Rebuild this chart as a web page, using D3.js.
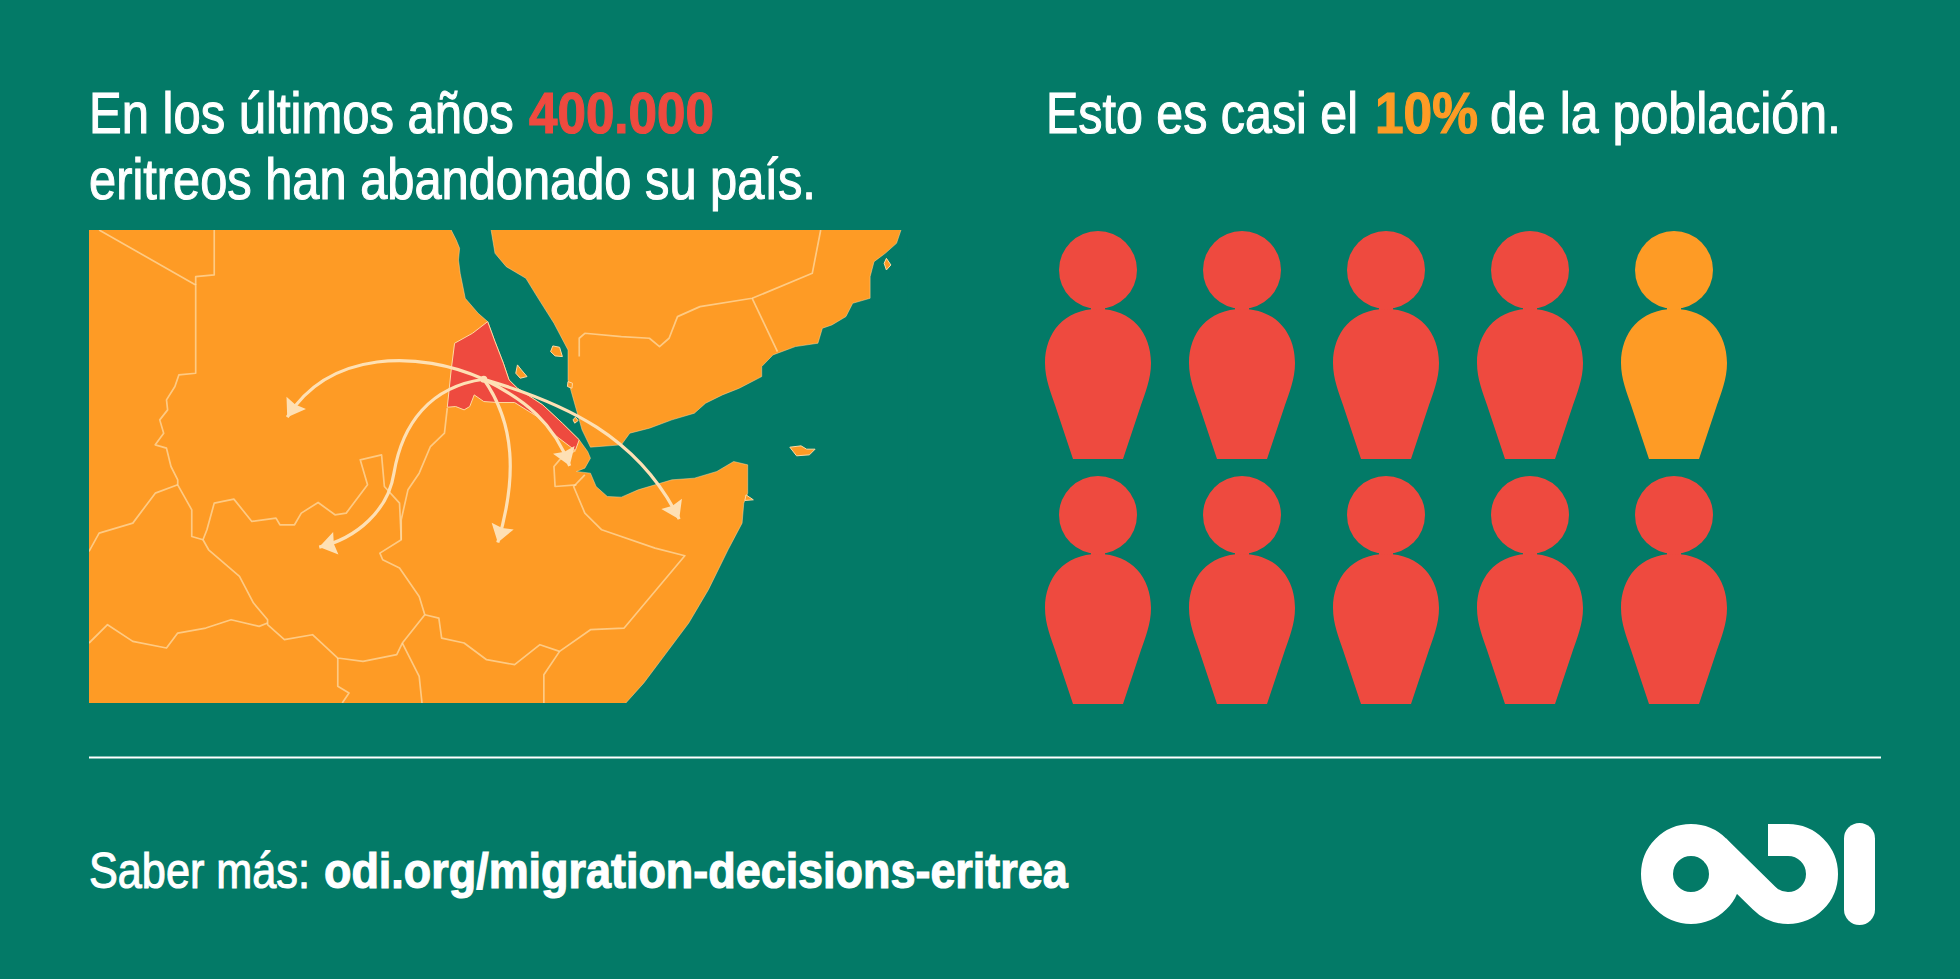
<!DOCTYPE html>
<html>
<head>
<meta charset="utf-8">
<script src="https://cdn.jsdelivr.net/npm/d3@7"></script>
<style>
html, body { margin: 0; padding: 0; background: #037a67; overflow: hidden; }
text { font-family: "Liberation Sans", sans-serif; }
</style>
</head>
<body>
<div id="chart"></div>
<script>
'use strict';

// map outlines, in units
const sea = [[695,45],[697,60],[706,90],[712,115],[710,150],[713,190],[722,265],[745,310],[762,335],[775,395],[790,460],[800,510],[815,535],[860,585],[895,640],[925,690],[940,725],[945,745],[935,775],[920,785],[945,790],[955,830],[975,860],[1000,862],[1030,840],[1060,825],[1090,810],[1130,805],[1170,785],[1200,755],[1225,765],[1225,850],[1218,880],[1215,940],[1190,1020],[1155,1140],[1120,1240],[1080,1330],[1040,1420],[1008,1480],[995,1500],[1530,1500],[1530,45],[1503,45],[1498,60],[1490,100],[1470,130],[1450,155],[1443,200],[1443,265],[1412,280],[1400,320],[1375,345],[1358,355],[1350,400],[1310,410],[1270,435],[1250,470],[1250,500],[1210,535],[1180,555],[1150,580],[1130,610],[1090,630],[1050,655],[1015,670],[1000,705],[945,712],[930,660],[915,570],[905,510],[905,420],[880,340],[850,260],[830,205],[795,170],[775,130],[768,60],[770,45]];
const eritrea = [[762,335],[775,395],[790,460],[800,510],[815,535],[860,585],[895,640],[925,690],[918,722],[885,680],[850,620],[810,578],[780,578],[755,575],[738,555],[730,590],[720,600],[705,590],[690,592],[697,480],[703,400],[735,370]];
const islands = [
    [[878,408],[890,412],[895,440],[882,438],[874,425]],
    [[815,465],[822,480],[832,500],[820,505],[812,490]],
    [[905,515],[913,520],[912,535],[904,530]],
    [[918,622],[923,632],[917,640],[914,630]],
    [[1300,712],[1320,708],[1330,718],[1345,718],[1335,735],[1312,738]],
    [[1472,145],[1480,165],[1472,180],[1468,160]],
    [[1222,855],[1235,870],[1220,872]]
];
const borders = [
    [[70,60],[242,225],[242,490],[212,495],[205,530],[190,570],[192,600],[178,630],[185,670],[170,705],[190,715],[198,770],[210,810],[210,825],[235,900],[235,980],[255,990]],
    [[275,60],[275,195],[242,200],[242,225]],
    [[210,825],[170,850],[130,940],[70,970],[52,1025]],
    [[255,990],[262,960],[275,880],[310,868],[342,935],[385,925],[392,945],[418,945],[430,910],[460,878],[490,915],[510,910],[548,825],[535,750],[573,735],[578,830],[605,880],[608,990],[570,1030],[575,1050],[605,1075],[640,1160],[650,1215]],
    [[690,595],[685,670],[660,710],[640,790],[620,840],[608,930],[608,990]],
    [[255,990],[265,1020],[320,1100],[345,1180],[370,1230],[370,1245],[400,1290],[450,1275],[495,1345],[540,1355],[600,1335],[610,1300],[650,1215]],
    [[52,1300],[85,1245],[130,1295],[190,1315],[210,1270],[260,1255],[305,1230],[355,1250],[370,1240]],
    [[495,1345],[495,1430],[515,1450],[503,1480]],
    [[610,1300],[640,1400],[645,1480]],
    [[650,1215],[675,1225],[680,1285],[720,1300],[760,1350],[810,1365],[855,1305],[890,1325],[945,1260],[1005,1255],[1113,1038],[1060,1015],[965,960],[935,910],[915,830],[935,795]],
    [[890,1325],[862,1395],[862,1480]],
    [[918,722],[890,750],[880,770],[882,830],[920,825]],
    [[925,440],[925,385],[935,370],[1000,380],[1050,385],[1068,410],[1085,385],[1100,320],[1140,290],[1233,265],[1340,190],[1355,60]],
    [[1233,265],[1278,425]]
];
const origin = [755, 508];
const arrows = [
    [[640,420],[480,420],[405,622]],
    [[660,530],[610,640],[595,790],[585,900],[530,985],[462,1012]],
    [[810,640],[815,800],[780,998]],
    [[830,570],[880,640],[908,768]],
    [[900,580],[1030,680],[1103,928]]
];

// one figure per ten people, by row
const people = [
    ['red', 'red', 'red', 'red', 'orange'],
    ['red', 'red', 'red', 'red', 'red']
];

const title_left = [
    {text: 'En los últimos años', x0: 89, x1: 514, y: 133, color: 'white'},
    {text: '400.000', x0: 529, x1: 714, y: 133, color: 'red', bold: true},
    {text: 'eritreos han abandonado su país.', x0: 89, x1: 816, y: 199, color: 'white'}
];
const title_right = [
    {text: 'Esto es casi el', x0: 1046, x1: 1358, y: 133, color: 'white'},
    {text: '10%', x0: 1375, x1: 1478, y: 133, color: 'orange', bold: true},
    {text: 'de la población.', x0: 1490, x1: 1841, y: 133, color: 'white'}
];
const footer = [
    {text: 'Saber más:', x0: 89, x1: 310, y: 888, color: 'white', size: 50},
    {text: 'odi.org/migration-decisions-eritrea', x0: 324, x1: 1068, y: 888, color: 'white', size: 50, bold: true}
];

const colors = {
    bg: '#037a67',
    orange: '#fe9b25',
    red: '#ee4a3f',
    white: '#ffffff',
    light: '#fed9a3',
    arrow: '#fee0b4'
};

const svg = d3.select('#chart')
    .append('svg')
    .attr('width', 1960)
    .attr('height', 979)
    .style('display', 'block');

svg.append('rect')
    .attr('width', 1960)
    .attr('height', 979)
    .attr('fill', colors.bg);

// texts are squeezed to the width they have in the picture
function draw_texts(items) {
    svg.append('g')
        .selectAll('text')
        .data(items)
        .enter()
        .append('text')
        .attr('font-size', d => d.size || 57)
        .attr('font-weight', d => d.bold ? 700 : 400)
        .attr('fill', d => colors[d.color])
        .attr('stroke', d => colors[d.color])
        .attr('stroke-width', d => d.bold ? 1.2 : 1.1)
        .text(d => d.text)
        .attr('transform', function(d) {
            let sx = (d.x1 - d.x0) / this.getComputedTextLength();
            return `translate(${d.x0},${d.y}) scale(${sx},1)`;
        });
}

function draw_map() {
    const x = d3.scaleLinear().domain([52, 1498]).range([89, 901]);
    const y = d3.scaleLinear().domain([60, 1480]).range([230, 703]);
    const line = d3.line().x(d => x(d[0])).y(d => y(d[1]));

    svg.append('clipPath')
        .attr('id', 'map-clip')
        .append('rect')
        .attr('x', x(52))
        .attr('y', y(60))
        .attr('width', x(1510) - x(52))
        .attr('height', y(1480) - y(60));

    const map = svg.append('g')
        .attr('clip-path', 'url(#map-clip)')
        .attr('stroke-linejoin', 'round');

    map.append('rect')
        .attr('x', x(52))
        .attr('y', y(60))
        .attr('width', x(1498) - x(52))
        .attr('height', y(1480) - y(60))
        .attr('fill', colors.orange);

    map.append('path')
        .attr('d', line(sea) + 'Z')
        .attr('fill', colors.bg)
        .attr('stroke', colors.light)
        .attr('stroke-width', 0.8)
        .attr('stroke-opacity', 0.6);

    map.selectAll('.island')
        .data(islands)
        .enter()
        .append('path')
        .attr('class', 'island')
        .attr('d', d => line(d) + 'Z')
        .attr('fill', colors.orange)
        .attr('stroke', colors.light)
        .attr('stroke-width', 1);

    map.selectAll('.border')
        .data(borders)
        .enter()
        .append('path')
        .attr('class', 'border')
        .attr('d', line)
        .attr('fill', 'none')
        .attr('stroke', colors.light)
        .attr('stroke-width', 1.7)
        .attr('opacity', 0.75);

    map.append('path')
        .attr('d', line(eritrea) + 'Z')
        .attr('fill', colors.red)
        .attr('stroke', colors.light)
        .attr('stroke-width', 1);

    // arrows leave from the capital, head follows the last control point
    arrows.forEach(function(a) {
        const p = d3.path();
        p.moveTo(x(origin[0]), y(origin[1]));
        for (let i = 0; i < a.length; i += 3) {
            p.bezierCurveTo(x(a[i][0]), y(a[i][1]), x(a[i + 1][0]), y(a[i + 1][1]), x(a[i + 2][0]), y(a[i + 2][1]));
        }
        map.append('path')
            .attr('d', p.toString())
            .attr('fill', 'none')
            .attr('stroke', colors.arrow)
            .attr('stroke-width', 3.2);

        const tip = [x(a[a.length - 1][0]), y(a[a.length - 1][1])];
        const prev = [x(a[a.length - 2][0]), y(a[a.length - 2][1])];
        const angle = Math.atan2(tip[1] - prev[1], tip[0] - prev[0]) * 180 / Math.PI;
        map.append('path')
            .attr('d', 'M0,0L-17,-11.5L-15,0L-17,11.5Z')
            .attr('transform', `translate(${tip[0]},${tip[1]}) rotate(${angle})`)
            .attr('fill', colors.arrow);
    });

    map.append('circle')
        .attr('cx', x(origin[0]))
        .attr('cy', y(origin[1]))
        .attr('r', 3.5)
        .attr('fill', colors.arrow);
}

function body_path() {
    const p = d3.path();
    p.moveTo(0, 0);
    p.bezierCurveTo(34, 0, 53, 24, 53, 54);
    p.bezierCurveTo(53, 70, 47, 84, 43, 96);
    p.lineTo(25, 150);
    p.lineTo(-25, 150);
    p.lineTo(-43, 96);
    p.bezierCurveTo(-47, 84, -53, 70, -53, 54);
    p.bezierCurveTo(-53, 24, -34, 0, 0, 0);
    p.closePath();
    return p.toString();
}

function draw_people() {
    const col = d3.scaleLinear().domain([0, 4]).range([1098, 1674]);
    const row = d3.scaleLinear().domain([0, 1]).range([270, 515]);

    const rows = svg.append('g')
        .selectAll('g')
        .data(people)
        .enter()
        .append('g');

    const figures = rows.selectAll('g')
        .data((d, i) => d.map((c, j) => ({color: c, i: i, j: j})))
        .enter()
        .append('g')
        .attr('transform', d => `translate(${col(d.j)},${row(d.i)})`)
        .attr('fill', d => colors[d.color]);

    figures.append('circle')
        .attr('r', 39);

    figures.append('rect')
        .attr('x', -7)
        .attr('y', 36)
        .attr('width', 14)
        .attr('height', 5);

    figures.append('path')
        .attr('transform', 'translate(0,39)')
        .attr('d', body_path());
}

function draw_logo() {
    const g = svg.append('g')
        .attr('fill', 'none')
        .attr('stroke', colors.white)
        .attr('stroke-width', 32);

    g.append('circle')
        .attr('cx', 1691)
        .attr('cy', 874)
        .attr('r', 34);

    g.append('path')
        .attr('d', 'M1768,840H1788A34,34 0 0 1 1788,908A34,34 0 0 1 1764,898L1715,850');

    svg.append('rect')
        .attr('x', 1844)
        .attr('y', 823)
        .attr('width', 31)
        .attr('height', 102)
        .attr('rx', 15.5)
        .attr('fill', colors.white);
}

draw_texts(title_left);
draw_texts(title_right);
draw_map();
draw_people();

svg.append('line')
    .attr('x1', 89)
    .attr('x2', 1881)
    .attr('y1', 757.5)
    .attr('y2', 757.5)
    .attr('stroke', colors.white)
    .attr('stroke-width', 2);

draw_texts(footer);
draw_logo();
</script>
</body>
</html>
